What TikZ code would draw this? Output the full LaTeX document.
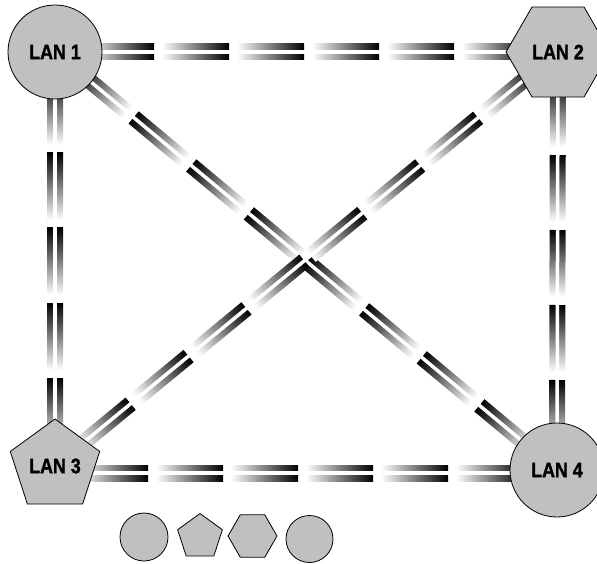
\documentclass[tikz,border=0pt]{standalone}
\usepackage{fontspec}
\setmainfont{Liberation Sans}
\newfontfamily\lanfont[FakeBold=1.6]{Liberation Sans Bold}
\usetikzlibrary{calc,shapes.geometric,backgrounds}
\definecolor{lanfill}{RGB}{192,192,192}

% label text: heavy, slightly condensed
\newcommand\lanlabel[1]{\scalebox{0.85}[1]{\fontsize{21}{21}\lanfont #1}}

% double-line link made of shaded dashes
% #1 = light end node, #2 = dark end node, #3 = distance of first dash end
\newcommand\lanlink[3]{%
  \path let \p1 = ($(#2)-(#1)$) in
    \pgfextra{\pgfmathsetmacro\tmpang{atan2(\y1,\x1)}\xdef\linkangle{\tmpang}%
              \pgfmathsetmacro\tmplen{veclen(\x1,\y1)}\xdef\linklen{\tmplen}};
  \begin{scope}[transform canvas={shift={(#1)},rotate=\linkangle}]
    \clip (0pt,-9pt) rectangle (\linklen pt,9pt);
    \foreach \k in {0,...,9}{%
      \pgfmathsetmacro\dend{#3+75*\k}%
      \pgfmathsetmacro\dstart{\dend-67}%
      \pgfmathtruncatemacro\dok{\dstart<\linklen}%
      \ifnum\dok=1
        \shade[left color=white,right color=black] (\dstart pt,-8pt) rectangle (\dend pt,8pt);
      \fi
    }
    \fill[white] (0pt,-1.75pt) rectangle (\linklen pt,1.75pt);
  \end{scope}}

\tikzset{
  lan/.style={draw=black, line width=0.8pt, fill=lanfill, inner sep=0pt},
  lancirc/.style={lan, circle},
  lanpent/.style={lan, regular polygon, regular polygon sides=5},
  lanhex/.style={lan, regular polygon, regular polygon sides=6},
}

\begin{document}
\begin{tikzpicture}[x=1pt,y=-1pt]
\useasboundingbox (0,0) rectangle (597,564);

% network nodes
\node[lancirc, minimum size=94pt] (LAN1) at (55,52) {\lanlabel{LAN 1}};
\node[lanhex, minimum size=104pt] (LAN2) at (558,52) {\lanlabel{LAN 2}};
\node[lanpent, minimum size=94pt] (LAN3) at (55,466) {\lanlabel{LAN 3}};
\node[lancirc, minimum size=94pt] (LAN4) at (557,470) {\lanlabel{LAN 4}};

% ends of the lower link, a little below the centres
\coordinate (LAN3b) at ([yshift=-7pt]LAN3.center);
\coordinate (LAN4b) at ([yshift=-3pt]LAN4.center);

% links behind the nodes
\begin{pgfonlayer}{background}
  \lanlink{LAN1}{LAN2}{24}
  \lanlink{LAN3}{LAN1}{13}
  \lanlink{LAN4}{LAN2}{15}
  \lanlink{LAN3b}{LAN4b}{18}
  \lanlink{LAN4}{LAN1}{26}
  \lanlink{LAN3}{LAN2}{23}
\end{pgfonlayer}

% shape legend
\node[lancirc, minimum size=48pt] (s1) at (144,537) {};
\node[lanpent, minimum size=47pt] (s2) at (200,537) {};
\node[lanhex, minimum size=49pt] (s3) at (252.5,536) {};
\node[lancirc, minimum size=47pt] (s4) at (309.5,539) {};
\end{tikzpicture}
\end{document}
